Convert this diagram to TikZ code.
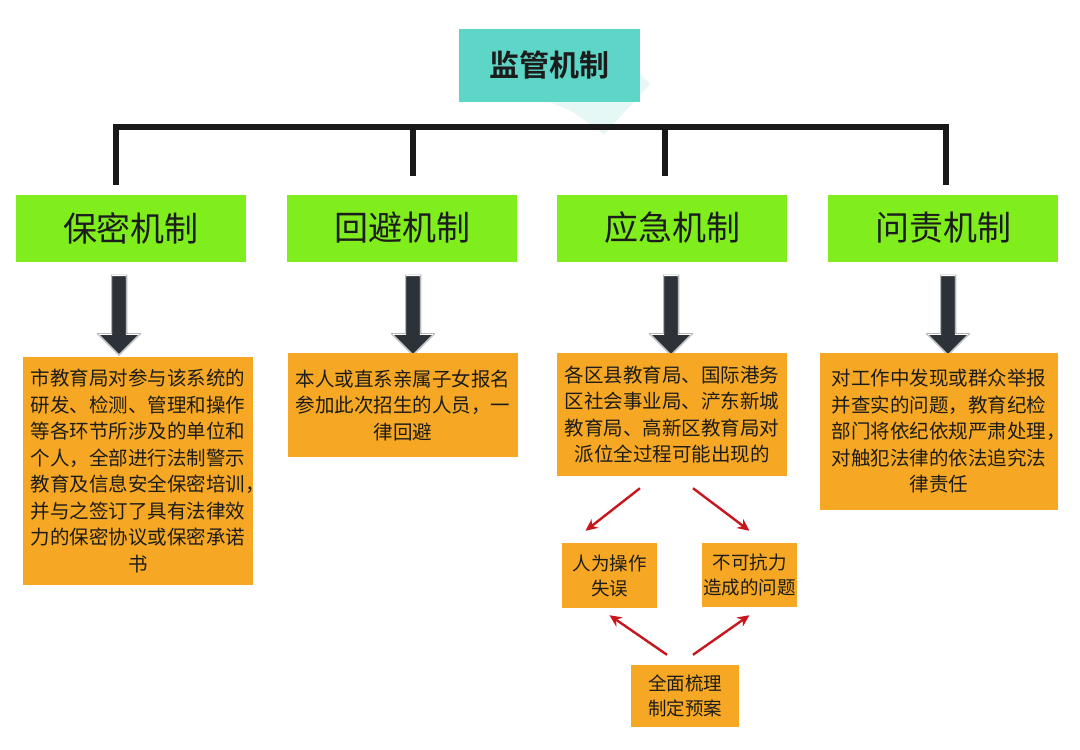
\documentclass[tikz,border=0pt]{standalone}
\usepackage{fontspec}
\usepackage{tikz}
\usetikzlibrary{arrows.meta,positioning,shapes.arrows,calc,backgrounds}
\newfontfamily\cjk[BoldFont={Noto Sans CJK SC Bold}]{Noto Sans CJK SC}
\definecolor{inkDark}{HTML}{1C1C1C}
\definecolor{titlebg}{HTML}{5ED6C7}
\definecolor{headbg}{HTML}{80EE1C}
\definecolor{bodybg}{HTML}{F6A824}
\definecolor{arrowgray}{HTML}{2D3138}
\definecolor{accentred}{HTML}{C8161D}

\begin{document}
\begin{tikzpicture}[x=1pt,y=-1pt,
  titlebox/.style={fill=titlebg,minimum width=181pt,minimum height=73pt,inner sep=0pt,
                   font=\cjk\bfseries\fontsize{30}{34}\selectfont,text=inkDark},
  headbox/.style={fill=headbg,minimum width=230pt,minimum height=67pt,inner sep=0pt,
                  font=\cjk\fontsize{34}{38}\selectfont,text=inkDark},
  bodybox/.style={fill=bodybg,inner sep=0pt,align=center,text=inkDark,
                  font=\cjk\fontsize{19.5}{26.5}\selectfont},
  smallbox/.style={fill=bodybg,inner sep=0pt,align=center,text=inkDark,
                   font=\cjk\fontsize{18.5}{25}\selectfont},
  bar/.style={line width=6.5pt,draw=black!90,line join=miter},
  bigarrow/.style={single arrow,shape border rotate=270,fill=arrowgray,draw=arrowgray,
                   double=white,double distance=0.8pt,inner sep=7pt,
                   single arrow head extend=13pt,minimum height=79pt},
  arr/.style={-{Stealth[length=12pt,width=11pt]},line width=2.4pt,draw=accentred}]
  \useasboundingbox (0,0) rectangle (1080,750);

  % top
  \node[titlebox] (mon) at (549.5,65.5) {监管机制};
  \begin{scope}[on background layer]
    \fill[white] (0,0) rectangle (1080,750);
    \fill[titlebg!30,opacity=.5] ($(mon.south east)+(-90,0)$) -- ($(mon.south east)+(0,-28)$)
      -- ($(mon.south east)+(10,-18)$) -- ($(mon.south east)+(-36,32)$)
      -- ($(mon.south east)+(-70,8)$) -- cycle;
  \end{scope}

  % bracket
  \coordinate (barL) at (116,127);
  \coordinate (barR) at (946,127);
  \coordinate (d1) at (116,185);
  \coordinate (d2) at (413,176);
  \coordinate (d3) at (665,176);
  \coordinate (d4) at (946,185);
  \draw[bar] (d1) -- (barL) -- (barR) -- (d4);
  \draw[bar] (d2) -- (d2 |- barL);
  \draw[bar] (d3) -- (d3 |- barL);

  % mechanisms
  \node[headbox] (sec) at (131,228) {保密机制};
  \node[headbox] (avo) at (402,228) {回避机制};
  \node[headbox] (emg) at (672,228) {应急机制};
  \node[headbox] (acc) at (943,228) {问责机制};

  \foreach \x/\n in {119/1,413/2,671/3,948/4}
    \node[bigarrow] (arr\n) at (\x,311.5) {};

  \node[bodybox,minimum width=230pt,minimum height=228pt] (secb) at (138,471)
    {市教育局对参与该系统的\\研发、检测、管理和操作\\等各环节所涉及的单位和\\
     个人，全部进行法制警示\\教育及信息安全保密培训\rlap{，}\\并与之签订了具有法律效\\
     力的保密协议或保密承诺\\书};
  \node[bodybox,minimum width=230pt,minimum height=104pt] (avob) at (403,405)
    {本人或直系亲属子女报名\\参加此次招生的人员，一\\律回避};
  \node[bodybox,minimum width=230pt,minimum height=123pt] (emgb) at (672,414.5)
    {各区县教育局、国际港务\\区社会事业局、浐东新城\\教育局、高新区教育局对\\派位全过程可能出现的};
  \node[bodybox,minimum width=238pt,minimum height=157pt] (accb) at (939,431.5)
    {对工作中发现或群众举报\\并查实的问题，教育纪检\\部门将依纪依规严肃处理\rlap{，}\\
     对触犯法律的依法追究法\\律责任};

  % emergency cases
  \node[smallbox,minimum width=95pt,minimum height=65pt] (human) at (609.5,575.5)
    {人为操作\\失误};
  \node[smallbox,minimum width=95pt,minimum height=64pt] (force) at (749.5,575)
    {不可抗力\\造成的问题};
  \node[smallbox,minimum width=108pt,minimum height=62pt] (plan) at (685,696)
    {全面梳理\\制定预案};

  \draw[arr] ($(emgb.south)+(-32,12)$) -- ($(human.north)+(-24,-12)$);
  \draw[arr] ($(emgb.south)+(21,12)$) -- ($(force.north)+(0,-12)$);
  \draw[arr] ($(plan.north)+(-18,-10)$) -- ($(human.south)+(0,7)$);
  \draw[arr] ($(plan.north)+(8,-10)$) -- ($(force.south)+(0,8)$);
\end{tikzpicture}
\end{document}
